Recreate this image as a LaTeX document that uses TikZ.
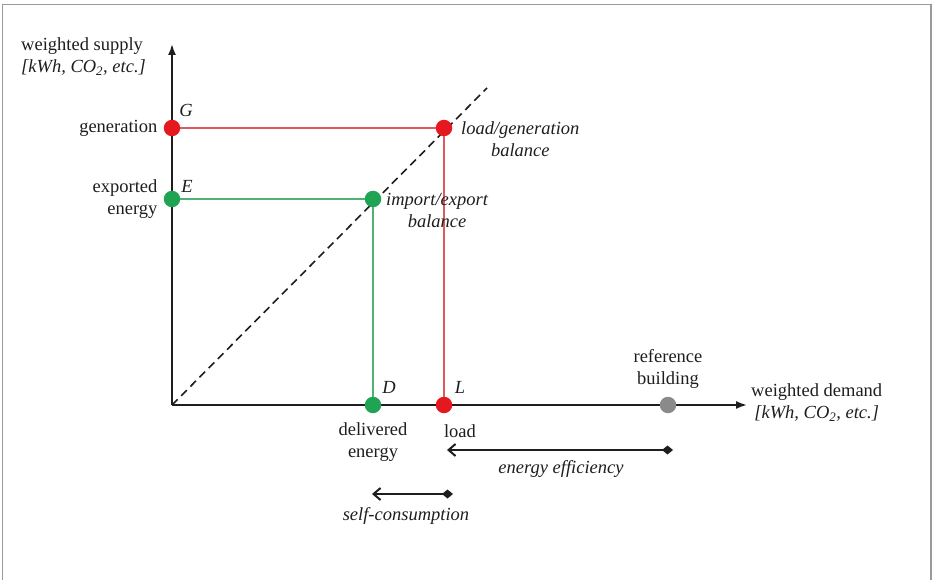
\documentclass[tikz,border=0pt]{standalone}
\usepackage{fontspec}
\setmainfont{Liberation Serif}
\usetikzlibrary{positioning,arrows.meta}
\definecolor{ink}{HTML}{1E1E1E}
\definecolor{frame}{HTML}{9A9A9A}
\definecolor{gen}{HTML}{E5171F}
\definecolor{genline}{HTML}{DE5A5C}
\definecolor{exp}{HTML}{1FA453}
\definecolor{expline}{HTML}{4DB36E}
\definecolor{refb}{HTML}{8A8A8A}
\tikzset{
  axis/.style  = {-{Latex[length=11pt,width=8pt]}, draw=ink, line width=1.8pt},
  diag/.style  = {draw=ink, line width=1.6pt, dash pattern=on 8pt off 5pt},
  redln/.style = {draw=genline, line width=1.6pt},
  grnln/.style = {draw=expline, line width=1.6pt},
  dot/.style   = {circle, minimum size=16.5pt, inner sep=0pt},
  lbl/.style   = {inner sep=0pt, text=ink, font=\fontsize{18.5}{22}\selectfont},
  ilbl/.style  = {lbl, font=\fontsize{18.5}{22}\selectfont\itshape},
  gap/.style   = {draw=ink, line width=2pt, {Straight Barb[length=7pt,width=12pt]}-{Diamond[length=11pt,width=9pt]}},
}
\newcommand{\unit}{[kWh, CO\textsubscript{2}, etc.]}

\begin{document}
\begin{tikzpicture}[x=1pt,y=-1pt]
\useasboundingbox (0,0) rectangle (932,580);
\draw[frame, line width=1.2pt] (2.5,580) -- (2.5,4.5) -- (931,4.5) -- (931,580);

% ------------------------------------------------------------------ axes
\coordinate (O)    at (172,405);
\coordinate (ytop) at (172,44);
\coordinate (xend) at (747,405);
\coordinate (dtop) at (487,88);
\draw[axis] (O) -- (ytop);
\draw[axis] (O) -- (xend);
\draw[diag] (O) -- (dtop);

% ------------------------------------------------------------------ points
\node[dot, fill=gen] (G)   at (172,128) {};
\node[dot, fill=exp] (E)   at (172,199) {};
\node[dot, fill=gen] (lgb) at (444,128) {};
\node[dot, fill=exp] (ieb) at (373,199) {};
\node[dot, fill=exp] (D)   at (373,405) {};
\node[dot, fill=gen] (L)   at (444,405) {};
\node[dot, fill=refb] (ref) at (668,405) {};

\draw[redln] (G) -- (lgb) -- (L);
\draw[grnln] (E) -- (ieb) -- (D);

% ------------------------------------------------------------------ labels
\node[lbl, align=left, anchor=west] (ylab) at (21,57) {weighted supply\\\itshape\unit};
\node[lbl, align=center, anchor=west] (xlab) at (751,403) {weighted demand\\\itshape\unit};
\node[lbl, left=6pt of G] (gtxt) {generation};
\node[lbl, align=right, left=6pt of E] (etxt) {exported\\energy};
\node[ilbl] (gl) at (186,110) {G};
\node[ilbl] (el) at (187,186) {E};
\node[ilbl] (dl) at (389,387) {D};
\node[ilbl] (ll) at (460,387) {L};
\node[ilbl, align=center, anchor=west] (lgtxt) at (461,139) {load/generation\\balance};
\node[ilbl, align=center, anchor=west] (ietxt) at (386,210) {import/export\\balance};
\node[lbl, align=center] (reftxt) at (668,369) {reference\\building};
\node[lbl, align=center] (dtxt) at (373,442) {delivered\\energy};
\node[lbl] (ltxt) at (460,431) {load};

% ------------------------------------------------------------------ gaps
\coordinate (effL) at (447,450);
\coordinate (effR) at (673,450);
\coordinate (scL)  at (372,494);
\coordinate (scR)  at (453,494);
\draw[gap] (effL) -- (effR);
\draw[gap] (scL) -- (scR);
\node[ilbl] (efftxt) at (561,469) {energy efficiency};
\node[ilbl] (sctxt)  at (406,516) {self-consumption};

\end{tikzpicture}
\end{document}
